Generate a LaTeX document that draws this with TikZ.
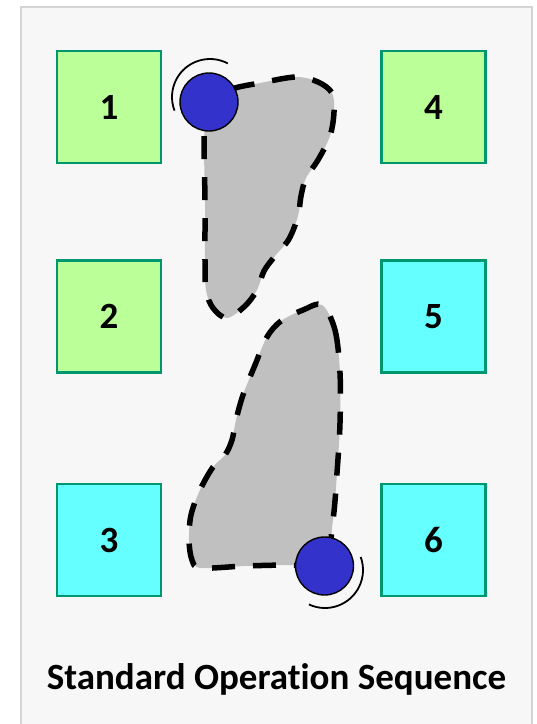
\documentclass[tikz,border=0pt]{standalone}
\usepackage{fontspec}
\setmainfont{Carlito}[Ligatures=NoCommon]
\usetikzlibrary{positioning}

\definecolor{padgreen}{RGB}{187,255,153}
\definecolor{padcyan}{RGB}{102,255,255}
\definecolor{padedge}{RGB}{0,150,110}
\definecolor{robotblue}{RGB}{51,51,204}
\definecolor{zonegray}{RGB}{192,192,192}
\definecolor{panelfill}{RGB}{247,247,247}
\definecolor{paneledge}{RGB}{212,212,212}

\begin{document}
\begin{tikzpicture}[
    x=1pt, y=-1pt,
    font=\fontsize{37}{44}\selectfont\bfseries,
    % station pads (colour = phase of the sequence)
    pad/.style={draw=padedge, line width=2.5pt, minimum width=104pt,
                minimum height=112pt, inner sep=0pt},
    padA/.style={pad, fill=padgreen},
    padB/.style={pad, fill=padcyan},
    % swept zone of the robot
    zone/.style={fill=zonegray, draw=black, line width=5.5pt,
                 dash pattern=on 23pt off 18pt},
    % robot head and its swing mark
    robot/.style={circle, fill=robotblue, draw=black, line width=1.4pt,
                  minimum size=58pt, inner sep=0pt},
    swing/.style={draw=black, line width=1.8pt}
  ]
  \useasboundingbox (0,0) rectangle (537,724);

  % ===================== panel =====================
  \draw[fill=panelfill, draw=paneledge, line width=2.5pt]
    (21,7) rectangle (532,740);

  % ===================== swept zones =====================
  \draw[zone] plot[smooth cycle, tension=0.55] coordinates {
    (209,102) (232,89) (260,83) (296,77) (318,82) (332,93) (334,112)
    (330,136) (318,160) (306,178) (301,196) (298,216) (289,239)
    (275,256) (264,271) (257,290) (245,306) (227,318) (213,308)
    (206,290) (205,260) (205,200) (204,150) (205,125)};
  \draw[zone] plot[smooth cycle, tension=0.55] coordinates {
    (322,305) (335,330) (340,373) (340,423) (337,473) (333,520)
    (324,566) (290,565) (245,566) (201,568) (192,560) (189,540)
    (191,515) (200,490) (213,467) (225,455) (232,440) (236,420)
    (243,395) (255,365) (267,337) (281,321) (303,310)};

  % ===================== robot heads =====================
  \node[robot] (rtop) at (209,102) {};
  \node[robot] (rbot) at (324.5,566) {};
  \draw[swing] (rtop.center) ++(1,-5) ++(-62:38)
    arc[start angle=-62, end angle=-201, radius=38];
  \draw[swing] (rbot.center) ++(0.5,4) ++(-20:38)
    arc[start angle=-20, end angle=115, radius=38];

  % ===================== stations =====================
  \node[padA] (s1) at (109,107) {1};
  \node[padA, below=95pt of s1] (s2) {2};
  \node[padB, below=109pt of s2] (s3) {3};
  \node[padA, right=218pt of s1] (s4) {4};
  \node[padB, right=218pt of s2] (s5) {5};
  \node[padB, right=218pt of s3] (s6) {6};

  \node (title) at (276.5,679) {Standard Operation Sequence};

\end{tikzpicture}
\end{document}
